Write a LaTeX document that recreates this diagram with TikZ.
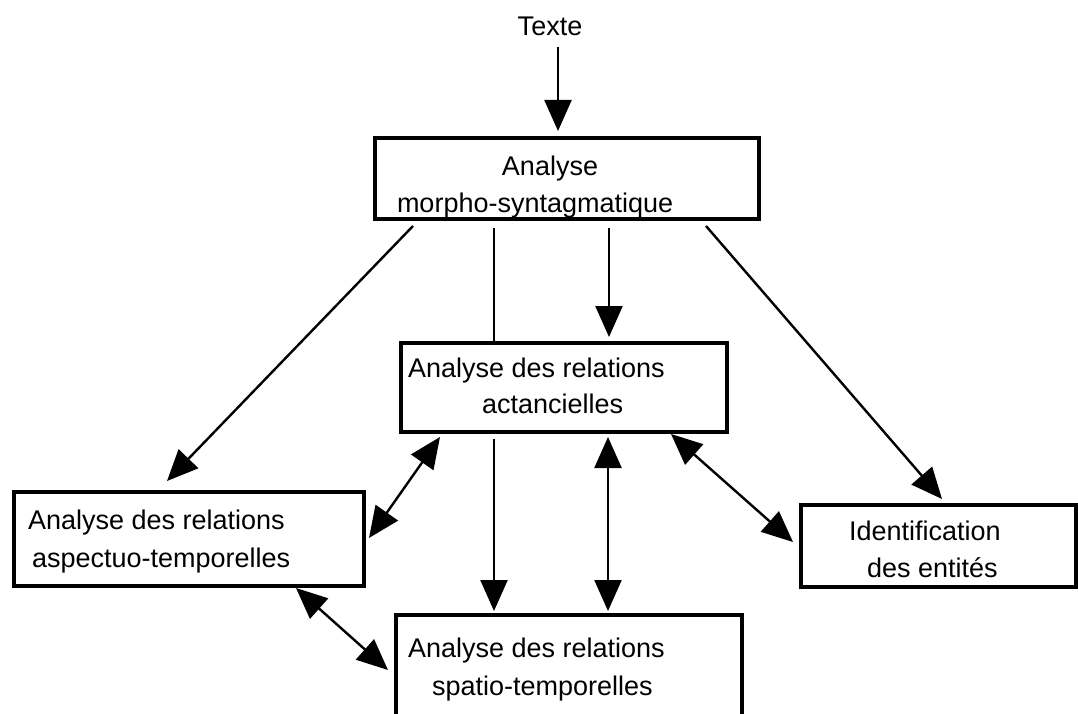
\documentclass[tikz,border=0pt]{standalone}
\usepackage{fontspec}
\setmainfont{Liberation Sans}
\usetikzlibrary{arrows.meta}
\tikzset{
  box/.style={draw, line width=3.5pt, rectangle, inner sep=0pt, outer sep=0pt},
  txt/.style={inner sep=0pt, outer sep=0pt, font=\fontsize{27}{32}\selectfont},
  arr/.style={line width=2.4pt, -{Triangle[length=31pt,width=27pt]}},
  darr/.style={line width=2.4pt, {Triangle[length=31pt,width=27pt]}-{Triangle[length=31pt,width=27pt]}},
  plain/.style={line width=2.4pt}
}
\begin{document}
\begin{tikzpicture}[x=1pt,y=-1pt]
\useasboundingbox (0,0) rectangle (1078,714);
\clip (0,0) rectangle (1078,714);
% boxes
\node[box, minimum width=384pt, minimum height=81pt] (top) at (567,178.5) {};
\node[box, minimum width=326pt, minimum height=89pt] (mid) at (564,387.5) {};
\node[box, minimum width=350pt, minimum height=94pt] (asp) at (189,539) {};
\node[box, minimum width=275pt, minimum height=82pt] (ident) at (938.5,546) {};
\node[box, minimum width=346pt, minimum height=120pt] (bot) at (569,675) {};
% texts
\node[txt, anchor=base] (texte) at (550,36) {Texte};
\node[txt, anchor=base] (top1) at (550,176) {Analyse};
\node[txt, anchor=base west] (top2) at (397,212) {morpho-syntagmatique};
\node[txt, anchor=base west] (mid1) at (408,377) {Analyse des relations};
\node[txt, anchor=base west] (mid2) at (482,413) {actancielles};
\node[txt, anchor=base west] (asp1) at (28,529) {Analyse des relations};
\node[txt, anchor=base west] (asp2) at (32,567) {aspectuo-temporelles};
\node[txt, anchor=base west] (bot1) at (408,657) {Analyse des relations};
\node[txt, anchor=base west] (bot2) at (432,695) {spatio-temporelles};
\node[txt, anchor=base west] (id1) at (849,540) {Identification};
\node[txt, anchor=base west] (id2) at (867,577) {des entités};
% connectors
\draw[arr] ([xshift=8pt,yshift=-11pt]texte.south) -- ([xshift=-9pt,yshift=7pt]top.north);
\draw[arr] ([xshift=-154pt,yshift=-7pt]top.south) -- ([xshift=-22pt,yshift=11pt]asp.north);
\draw[plain] ([xshift=-73pt,yshift=-9pt]top.south) -- ([xshift=-70pt]mid.north);
\draw[arr] ([xshift=-70pt,yshift=-7pt]mid.south) -- ([xshift=-75pt,yshift=4pt]bot.north);
\draw[arr] ([xshift=42pt,yshift=-9pt]top.south) -- ([xshift=45pt,yshift=6pt]mid.north);
\draw[arr] ([xshift=139pt,yshift=-7pt]top.south) -- ([xshift=3.5pt,yshift=6pt]ident.north);
\draw[darr] ([xshift=-124pt,yshift=-5pt]mid.south) -- ([xshift=5pt,yshift=1pt]asp.east);
\draw[darr] ([xshift=44pt,yshift=-5pt]mid.south) -- ([xshift=39pt,yshift=4pt]bot.north);
\draw[darr] ([xshift=107pt,yshift=-2pt]mid.south) -- ([xshift=-8pt,yshift=4pt]ident.west);
\draw[darr] ([xshift=107pt,yshift=-2pt]asp.south) -- ([xshift=-8pt,yshift=5pt]bot.west);
\end{tikzpicture}
\end{document}
